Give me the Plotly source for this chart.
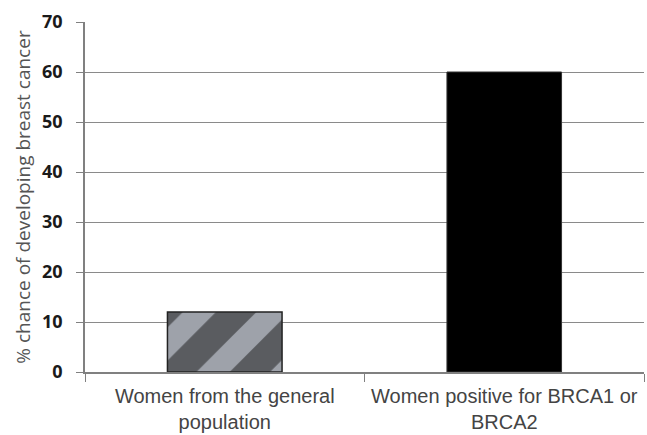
import plotly.graph_objects as go

categories = ["Women from the general<br>population", "Women positive for BRCA1 or<br>BRCA2"]
values = [12, 60]
y_ticks = [0, 10, 20, 30, 40, 50, 60, 70]
y_title = "% chance of developing breast cancer"

fig = go.Figure()
fig.add_trace(go.Bar(
    x=[categories[0]], y=[values[0]], width=0.41,
    marker=dict(color="#9a9ca3",
                pattern=dict(shape="/", size=52, solidity=0.55, fgcolor="#161616", bgcolor="#9ea2aa",
                             fillmode="overlay"),
                line=dict(color="#222", width=1.5)),
    showlegend=False,
))
fig.add_trace(go.Bar(
    x=[categories[1]], y=[values[1]], width=0.41,
    marker=dict(color="#000000", line=dict(color="#333", width=1)),
    showlegend=False,
))

fig.update_layout(
    width=647, height=435,
    margin=dict(l=85, r=3, t=22, b=63),
    plot_bgcolor="white", paper_bgcolor="white",
    barmode="overlay",
    xaxis=dict(
        categoryorder="array", categoryarray=categories,
        showline=True, linecolor="#808080", linewidth=1.5,
        ticks="outside", tickson="boundaries", ticklen=8, tickcolor="#808080",
        tickfont=dict(family="Liberation Sans, Arial", size=20, color="#444"),
        ticklabelstandoff=5,
        automargin=False,
        showgrid=False,
    ),
    yaxis=dict(
        range=[0, 70], tickvals=y_ticks,
        showline=True, linecolor="#808080", linewidth=1.5,
        ticks="outside", ticklen=7, tickcolor="#808080",
        showgrid=True, gridcolor="#8a8a8a", gridwidth=1,
        zeroline=False,
        ticklabelstandoff=10,
        automargin=False,
        tickfont=dict(family="Open Sans, Liberation Sans", size=18, color="#1a1a1a", weight="bold"),
        title=dict(text=y_title, font=dict(family="Open Sans, Liberation Sans", size=19, color="#555"),
                   standoff=6),
    ),
    bargap=0.59,
)

fig.write_html("out.html")
